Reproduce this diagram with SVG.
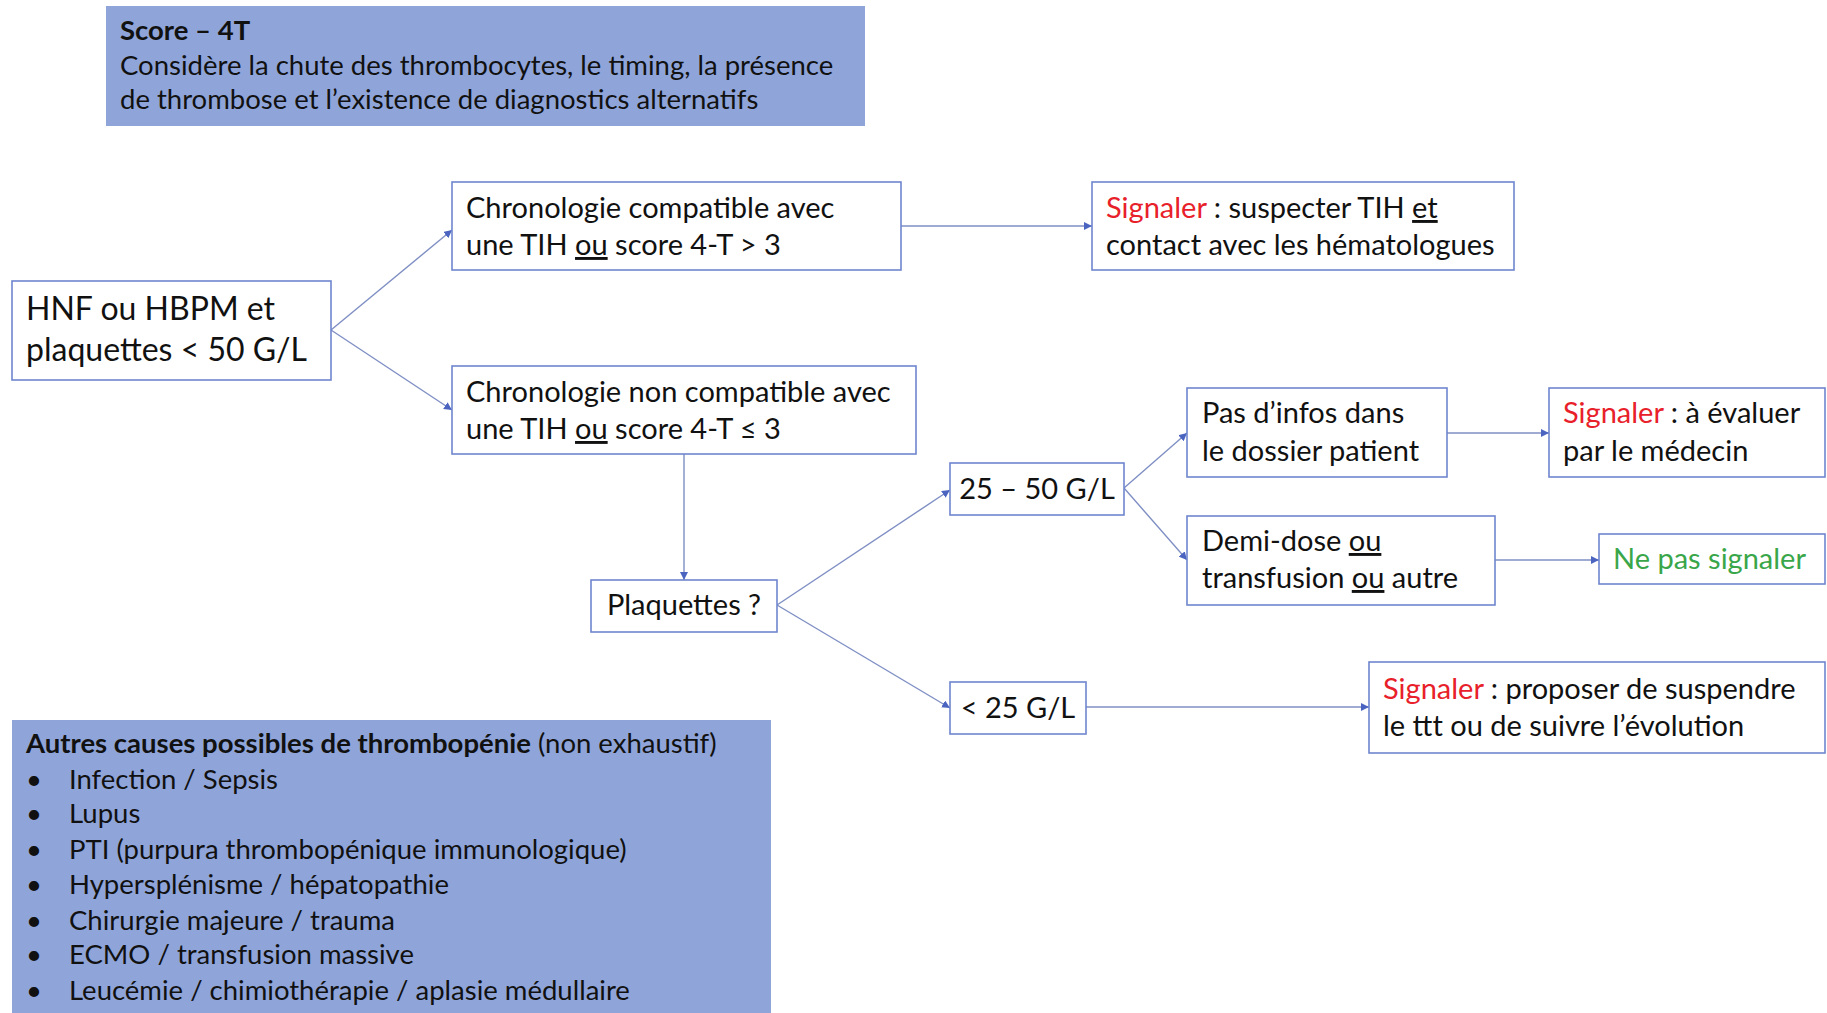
<svg xmlns="http://www.w3.org/2000/svg" width="1827" height="1013" viewBox="0 0 1827 1013">
  <style>
    text { font-family: Lato, "Open Sans", "Liberation Sans", sans-serif; fill: #111; }
    .node rect { fill: #ffffff; stroke: #6f86cf; stroke-width: 1.6; }
    .panel rect { fill: #8fa5da; stroke: none; }
    .t { font-size: 29px; }
    .big { font-size: 32px; }
    .panel text { font-size: 27.5px; }
    .b { font-weight: bold; }
    .u { text-decoration: underline; }
    .red { fill: #e8202a; }
    .green { fill: #3aa64a; }
    .edges line { stroke: #7f8fc4; stroke-width: 1.4; fill: none; marker-end: url(#arr); }
  </style>
  <defs>
    <marker id="arr" viewBox="0 0 10 10" refX="10" refY="5" markerWidth="8" markerHeight="8" orient="auto" markerUnits="userSpaceOnUse">
      <path d="M0,0 L10,5 L0,10 z" fill="#4a64c0"/>
    </marker>
  </defs>

  <rect width="1827" height="1013" fill="#ffffff"/>

  <!-- info panel: 4T score -->
  <g id="score4t" class="panel">
    <rect x="106" y="6" width="759" height="120"/>
    <text x="120" y="40" class="b">Score – 4T</text>
    <text x="120" y="75">Considère la chute des thrombocytes, le timing, la présence</text>
    <text x="120" y="109">de thrombose et l’existence de diagnostics alternatifs</text>
  </g>

  <!-- connectors -->
  <g id="connectors" class="edges">
    <line x1="331" y1="330" x2="452" y2="230"/>
    <line x1="331" y1="330" x2="452" y2="410"/>
    <line x1="901" y1="226" x2="1092" y2="226"/>
    <line x1="684" y1="454" x2="684" y2="580"/>
    <line x1="777" y1="605" x2="950" y2="490"/>
    <line x1="777" y1="605" x2="950" y2="708"/>
    <line x1="1124" y1="488" x2="1187" y2="433"/>
    <line x1="1124" y1="488" x2="1187" y2="560"/>
    <line x1="1447" y1="433" x2="1549" y2="433"/>
    <line x1="1495" y1="560" x2="1599" y2="560"/>
    <line x1="1086" y1="707" x2="1369" y2="707"/>
  </g>

  <g id="start" class="node">
    <rect x="12" y="281" width="319" height="99"/>
    <text x="26" y="320" class="big">HNF ou HBPM et</text>
    <text x="26" y="361" class="big">plaquettes &lt; 50 G/L</text>
  </g>

  <g id="compatible" class="node">
    <rect x="452" y="182" width="449" height="88"/>
    <text x="466" y="218" class="t">Chronologie compatible avec</text>
    <text x="466" y="255" class="t">une TIH <tspan class="u">ou</tspan> score 4-T &gt; 3</text>
  </g>

  <g id="signal-tih" class="node">
    <rect x="1092" y="182" width="422" height="88"/>
    <text x="1106" y="218" class="t"><tspan class="red">Signaler</tspan> : suspecter TIH <tspan class="u">et</tspan></text>
    <text x="1106" y="255" class="t">contact avec les hématologues</text>
  </g>

  <g id="non-compatible" class="node">
    <rect x="452" y="366" width="464" height="88"/>
    <text x="466" y="402" class="t">Chronologie non compatible avec</text>
    <text x="466" y="439" class="t">une TIH <tspan class="u">ou</tspan> score 4-T ≤ 3</text>
  </g>

  <g id="plaquettes" class="node">
    <rect x="591" y="580" width="186" height="52"/>
    <text x="684" y="615" class="t" text-anchor="middle">Plaquettes ?</text>
  </g>

  <g id="range-25-50" class="node">
    <rect x="950" y="463" width="174" height="52"/>
    <text x="1037" y="499" class="t" text-anchor="middle">25 – 50 G/L</text>
  </g>

  <g id="no-info" class="node">
    <rect x="1187" y="388" width="260" height="89"/>
    <text x="1202" y="423" class="t">Pas d’infos dans</text>
    <text x="1202" y="461" class="t">le dossier patient</text>
  </g>

  <g id="signal-eval" class="node">
    <rect x="1549" y="388" width="276" height="89"/>
    <text x="1563" y="423" class="t"><tspan class="red">Signaler</tspan> : à évaluer</text>
    <text x="1563" y="461" class="t">par le médecin</text>
  </g>

  <g id="half-dose" class="node">
    <rect x="1187" y="516" width="308" height="89"/>
    <text x="1202" y="551" class="t">Demi-dose <tspan class="u">ou</tspan></text>
    <text x="1202" y="588" class="t">transfusion <tspan class="u">ou</tspan> autre</text>
  </g>

  <g id="no-signal" class="node">
    <rect x="1599" y="534" width="226" height="50"/>
    <text x="1613" y="569" class="t green">Ne pas signaler</text>
  </g>

  <g id="below-25" class="node">
    <rect x="950" y="682" width="136" height="52"/>
    <text x="1018" y="718" class="t" text-anchor="middle">&lt; 25 G/L</text>
  </g>

  <g id="signal-suspend" class="node">
    <rect x="1369" y="662" width="456" height="91"/>
    <text x="1383" y="699" class="t"><tspan class="red">Signaler</tspan> : proposer de suspendre</text>
    <text x="1383" y="736" class="t">le ttt ou de suivre l’évolution</text>
  </g>

  <!-- info panel: other causes -->
  <g id="other-causes" class="panel">
    <rect x="12" y="720" width="759" height="300"/>
    <text x="26" y="753"><tspan class="b">Autres causes possibles de thrombopénie</tspan> (non exhaustif)</text>
    <text x="26" y="789">•</text><text x="69" y="789">Infection / Sepsis</text>
    <text x="26" y="823">•</text><text x="69" y="823">Lupus</text>
    <text x="26" y="859">•</text><text x="69" y="859">PTI (purpura thrombopénique immunologique)</text>
    <text x="26" y="894">•</text><text x="69" y="894">Hypersplénisme / hépatopathie</text>
    <text x="26" y="930">•</text><text x="69" y="930">Chirurgie majeure / trauma</text>
    <text x="26" y="964">•</text><text x="69" y="964">ECMO / transfusion massive</text>
    <text x="26" y="1000">•</text><text x="69" y="1000">Leucémie / chimiothérapie / aplasie médullaire</text>
  </g>
</svg>
